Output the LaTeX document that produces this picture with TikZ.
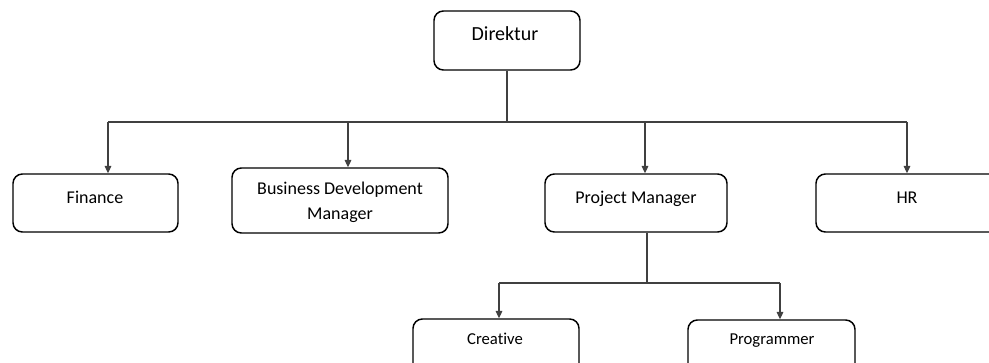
\documentclass[tikz,border=0pt]{standalone}
\usepackage{fontspec}
\setmainfont{Carlito}[Ligatures={NoCommon}]
\usetikzlibrary{arrows.meta,calc}
\begin{document}
\begin{tikzpicture}[x=0.75pt,y=-0.75pt,
  box/.style={draw=black,line width=1.1pt,rounded corners=7pt,fill=white,inner sep=0pt},
  lbl/.style={inner sep=0pt,anchor=center,align=center},
  mid/.style={lbl,font=\fontsize{13.5}{19}\selectfont,text height=0.68em,text depth=0.22em},
  sub/.style={lbl,font=\fontsize{12.5}{15}\selectfont,text height=0.68em,text depth=0.22em},
  conn/.style={draw=black!75,line width=0.8pt},
  arr/.style={conn,-{Triangle[length=5.5pt,width=5pt]}}]
\useasboundingbox (0,0) rectangle (989,362);
\clip (0,0) rectangle (989,362);
% boxes
\node[box,minimum width=109.5pt,minimum height=44.25pt] (dir) at (507,40.5) {};
\node[box,minimum width=123.75pt,minimum height=43.5pt] (fin) at (95.5,203) {};
\node[box,minimum width=162pt,minimum height=48.75pt] (bdm) at (340,200.5) {};
\node[box,minimum width=136.5pt,minimum height=43.5pt] (pm) at (636,203) {};
\node[box,minimum width=138pt,minimum height=43.5pt] (hr) at (908,203) {};
\node[box,minimum width=124.5pt,minimum height=43.5pt] (cre) at (496,348) {};
\node[box,minimum width=125.25pt,minimum height=43.5pt] (prg) at (771.5,349) {};
% texts
\node[lbl,font=\fontsize{15}{18}\selectfont] (tdir) at (505,34) {Direktur};
\node[mid] (tfin) at (95,200) {Finance};
\node[lbl,font=\fontsize{13.5}{19}\selectfont] (tbdm) at (340,202) {Business Development\\Manager};
\node[mid] (tpm) at (636,200) {Project Manager};
\node[mid] (thr) at (907,200) {HR};
\node[sub] (tcre) at (495,341) {Creative};
\node[sub] (tprg) at (772,341) {Programmer};
% connectors
\coordinate (bus) at (507,122);
\coordinate (fintop) at ($(fin.north)+(12.5,0)$);
\coordinate (bdmtop) at ($(bdm.north)+(8,0)$);
\coordinate (pmtop) at ($(pm.north)+(9,0)$);
\coordinate (hrtop) at ($(hr.north)+(-1,0)$);
\draw[conn] (dir.south) -- (bus);
\draw[conn] (fintop |- bus) -- (hrtop |- bus);
\draw[arr] (fintop |- bus) -- (fintop);
\draw[arr] (bdmtop |- bus) -- (bdmtop);
\draw[arr] (pmtop |- bus) -- (pmtop);
\draw[arr] (hrtop |- bus) -- (hrtop);
\coordinate (pmbot) at ($(pm.south)+(11,0)$);
\coordinate (sub) at (647,283);
\draw[conn] (pmbot) -- (sub);
\coordinate (crettop) at ($(cre.north)+(3,0)$);
\coordinate (prgtop) at ($(prg.north)+(8.5,0)$);
\draw[conn] (crettop |- sub) -- (prgtop |- sub);
\draw[arr] (crettop |- sub) -- (crettop);
\draw[arr] (prgtop |- sub) -- (prgtop);
\end{tikzpicture}
\end{document}
